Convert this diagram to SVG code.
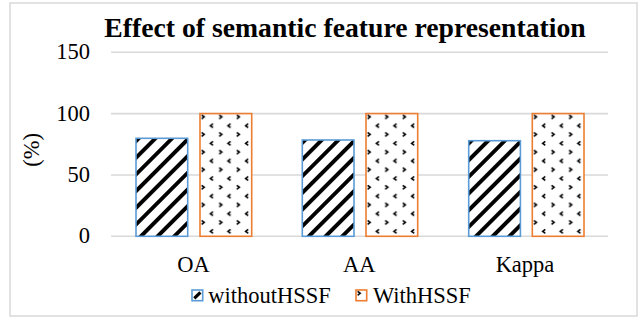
<svg xmlns="http://www.w3.org/2000/svg" width="644" height="322" viewBox="0 0 644 322">
  <style>
    .frame { fill: #ffffff; stroke: #d9d9d9; stroke-width: 1.5; }
    .grid { stroke: #d9d9d9; stroke-width: 1.6; fill: none; }
    .title { font-family: "Liberation Serif", "Times New Roman", serif; font-weight: bold; font-size: 27.7px; fill: #000; }
    .lbl { font-family: "Liberation Serif", "Times New Roman", serif; font-size: 22.5px; fill: #000; }
    .without { fill: url(#stripes); stroke: #5b9bd5; stroke-width: 1.6; }
    .with { fill: url(#dots); stroke: #ed7d31; stroke-width: 1.6; }
    .mark { fill: none; stroke: #000; stroke-width: 1.6; }
  </style>
  <defs>
    <!-- wide upward diagonal hatch -->
    <pattern id="stripes" patternUnits="userSpaceOnUse" width="11.8" height="11.8" patternTransform="rotate(45)">
      <rect width="11.8" height="11.8" fill="#ffffff"/>
      <rect x="0" y="0" width="3.9" height="11.8" fill="#000000"/>
    </pattern>
    <!-- staggered small chevron dots -->
    <pattern id="dots" patternUnits="userSpaceOnUse" width="17.6" height="17.6">
      <rect width="17.6" height="17.6" fill="#ffffff"/>
      <path class="mark" d="M1.6,1.3 l2.6,2 l-2.6,2"/>
      <path class="mark" d="M13,10.1 l-2.6,2 l2.6,2"/>
    </pattern>
  </defs>

  <rect class="frame" x="10" y="3" width="627" height="313"/>

  <g id="title">
    <text class="title" x="345" y="36.7" text-anchor="middle">Effect of semantic feature representation</text>
  </g>

  <g id="gridlines">
    <line class="grid" x1="111" y1="52.2" x2="608" y2="52.2"/>
    <line class="grid" x1="111" y1="113.6" x2="608" y2="113.6"/>
    <line class="grid" x1="111" y1="175" x2="608" y2="175"/>
    <line class="grid" x1="111" y1="236.3" x2="608" y2="236.3"/>
  </g>

  <g id="y-axis">
    <text class="lbl" x="90" y="59.2" text-anchor="end">150</text>
    <text class="lbl" x="90" y="120.7" text-anchor="end">100</text>
    <text class="lbl" x="90" y="181.9" text-anchor="end">50</text>
    <text class="lbl" x="90" y="243.3" text-anchor="end">0</text>
    <text class="lbl" transform="translate(39,150) rotate(-90)" text-anchor="middle">(%)</text>
  </g>

  <g id="bars">
    <g id="bar-oa-without" transform="translate(136,138.3)"><rect class="without" x="0" y="0" width="51.7" height="98"/></g>
    <g id="bar-oa-with" transform="translate(200,113.6)"><rect class="with" x="0" y="0" width="51.7" height="122.7"/></g>
    <g id="bar-aa-without" transform="translate(302.3,140)"><rect class="without" x="0" y="0" width="51.7" height="96.3"/></g>
    <g id="bar-aa-with" transform="translate(366,113.6)"><rect class="with" x="0" y="0" width="51.7" height="122.7"/></g>
    <g id="bar-kappa-without" transform="translate(468.7,140.7)"><rect class="without" x="0" y="0" width="51.7" height="95.6"/></g>
    <g id="bar-kappa-with" transform="translate(532.3,113.6)"><rect class="with" x="0" y="0" width="51.7" height="122.7"/></g>
  </g>

  <g id="x-axis">
    <text class="lbl" x="193.5" y="271.7" text-anchor="middle">OA</text>
    <text class="lbl" x="359.3" y="271.7" text-anchor="middle">AA</text>
    <text class="lbl" x="525" y="271.7" text-anchor="middle">Kappa</text>
  </g>

  <g id="legend">
    <g id="legend-without" transform="translate(192,290)">
      <rect x="0" y="0" width="10.7" height="10.7" fill="#ffffff" stroke="#5b9bd5" stroke-width="1.6"/>
      <line x1="2.3" y1="8.4" x2="8.4" y2="2.3" stroke="#000" stroke-width="3.2"/>
      <text class="lbl" x="16.3" y="13.3">withoutHSSF</text>
    </g>
    <g id="legend-with" transform="translate(356,290)">
      <rect class="with" x="0" y="0" width="10.7" height="10.7"/>
      <text class="lbl" x="17" y="13.3">WithHSSF</text>
    </g>
  </g>
</svg>
